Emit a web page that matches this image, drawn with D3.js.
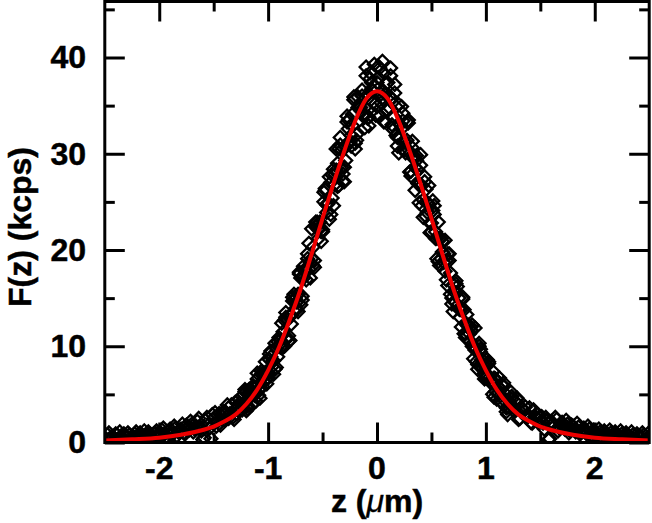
<!DOCTYPE html>
<html>
<head>
<meta charset="utf-8">
<script src="https://cdn.jsdelivr.net/npm/d3@7"></script>
<style>
body{margin:0;background:#fff}
svg{display:block}
text{font-family:"Liberation Sans",Arial,sans-serif;font-weight:bold;fill:#000;stroke:#000;stroke-width:0.5px}
</style>
</head>
<body>
<div id="chart"></div>
<script>
// fitted profile (red line)
var fitZ = [-2.5,-2.25,-2.0,-1.8,-1.6,-1.5,-1.4,-1.3,-1.2,-1.1,-1.0,-0.9,-0.8,-0.7,-0.6,-0.5,-0.4,-0.3,-0.2,-0.1,0,
            0.1,0.2,0.3,0.4,0.5,0.6,0.7,0.8,0.9,1.0,1.1,1.2,1.3,1.4,1.5,1.6,1.8,2.0,2.25,2.5]
var fitF = [0.2,0.33,0.5,0.8,1.3,1.65,2.2,2.9,4.0,5.5,7.5,9.9,12.8,16.0,19.6,23.3,26.9,30.3,33.4,35.7,36.5,
            35.7,33.4,30.3,26.9,23.3,19.6,16.0,12.8,9.9,7.5,5.5,4.0,2.9,2.2,1.65,1.3,0.8,0.5,0.33,0.2]

// measured points [z, F], first scan
var scanA = [
[-2.500,0.5],[-2.475,0.8],[-2.450,0.4],[-2.425,0.6],[-2.400,0.9],[-2.375,0.3],[-2.350,0.7],[-2.325,0.9],[-2.300,0.5],[-2.275,0.8],
[-2.250,0.4],[-2.225,0.9],[-2.200,0.6],[-2.175,1.0],[-2.150,0.6],[-2.125,0.8],[-2.100,1.1],[-2.075,0.6],[-2.050,0.9],[-2.025,1.2],
[-2.000,0.7],[-1.975,1.3],[-1.950,0.9],[-1.925,1.1],[-1.900,1.4],[-1.875,0.9],[-1.850,1.5],[-1.825,1.1],[-1.800,1.4],[-1.775,1.0],
[-1.750,1.8],[-1.725,1.3],[-1.700,1.9],[-1.675,1.4],[-1.650,2.2],[-1.625,1.6],[-1.600,0.3],[-1.575,2.3],[-1.550,1.8],[-1.525,0.4],
[-1.500,2.5],[-1.475,1.7],[-1.450,3.0],[-1.425,2.8],[-1.400,2.4],[-1.375,3.9],[-1.350,3.0],[-1.325,2.6],[-1.300,4.2],[-1.275,3.7],
[-1.250,3.4],[-1.225,5.0],[-1.200,4.3],[-1.175,5.2],[-1.150,3.9],[-1.125,5.6],[-1.100,6.6],[-1.075,5.7],[-1.050,5.8],[-1.025,8.4],
[-1.000,7.2],[-0.975,8.9],[-0.950,7.1],[-0.925,9.8],[-0.900,10.1],[-0.875,9.9],[-0.850,12.7],[-0.825,10.8],[-0.800,13.2],[-0.775,14.7],
[-0.750,15.0],[-0.725,13.6],[-0.700,17.1],[-0.675,17.1],[-0.650,16.9],[-0.625,20.7],[-0.600,19.1],[-0.575,18.9],[-0.550,22.9],[-0.525,22.4],
[-0.500,22.1],[-0.475,26.2],[-0.450,24.9],[-0.425,27.0],[-0.400,24.6],[-0.375,28.3],[-0.350,30.5],[-0.325,28.6],[-0.300,28.6],[-0.275,33.9],
[-0.250,31.3],[-0.225,34.1],[-0.200,30.5],[-0.175,34.8],[-0.150,34.8],[-0.125,33.9],[-0.100,38.1],[-0.075,33.8],[-0.050,36.7],[-0.025,39.3],
[0.000,37.4],[0.025,33.9],[0.050,39.6],[0.075,36.2],[0.100,34.5],[0.125,38.9],[0.150,33.9],[0.175,31.9],[0.200,35.1],[0.225,32.6],
[0.250,30.4],[0.275,33.3],[0.300,30.0],[0.325,30.6],[0.350,26.2],[0.375,28.3],[0.400,28.8],[0.425,25.2],[0.450,23.5],[0.475,26.7],
[0.500,22.8],[0.525,23.7],[0.550,19.1],[0.575,21.2],[0.600,19.8],[0.625,17.8],[0.650,19.6],[0.675,15.4],[0.700,16.4],[0.725,16.5],
[0.750,15.0],[0.775,12.0],[0.800,13.8],[0.825,12.2],[0.850,10.6],[0.875,12.2],[0.900,9.6],[0.925,8.1],[0.950,9.7],[0.975,8.1],
[1.000,6.8],[1.025,8.2],[1.050,6.5],[1.075,6.7],[1.100,4.5],[1.125,5.6],[1.150,6.0],[1.175,4.3],[1.200,3.7],[1.225,5.3],
[1.250,3.7],[1.275,4.2],[1.300,2.4],[1.325,3.6],[1.350,3.3],[1.375,2.6],[1.400,3.6],[1.425,2.0],[1.450,2.7],[1.475,2.9],
[1.500,2.5],[1.525,2.0],[1.550,2.6],[1.575,0.3],[1.600,2.2],[1.625,1.7],[1.650,2.4],[1.675,1.5],[1.700,2.1],[1.725,1.4],
[1.750,1.9],[1.775,1.2],[1.800,1.7],[1.825,1.1],[1.850,1.6],[1.875,1.0],[1.900,1.5],[1.925,0.9],[1.950,1.4],[1.975,0.8],
[2.000,1.2],[2.025,0.7],[2.050,1.1],[2.075,0.8],[2.100,1.0],[2.125,0.6],[2.150,1.0],[2.175,0.7],[2.200,0.9],[2.225,0.5],
[2.250,0.9],[2.275,0.6],[2.300,0.8],[2.325,0.5],[2.350,0.8],[2.375,0.4],[2.400,0.7],[2.425,0.5],[2.450,0.8],[2.475,0.4],
[2.500,0.6]]

// second scan, central part only
var scanB = [
[-1.2875,3.0],[-1.2625,4.5],[-1.2375,3.9],[-1.2125,5.3],[-1.1875,3.8],[-1.1625,5.1],[-1.1375,5.7],[-1.1125,4.3],[-1.0875,6.0],[-1.0625,7.1],
[-1.0375,6.3],[-1.0125,6.1],[-0.9875,8.6],[-0.9625,8.4],[-0.9375,10.3],[-0.9125,8.9],[-0.8875,9.9],[-0.8625,11.5],[-0.8375,13.5],[-0.8125,11.1],
[-0.7875,12.3],[-0.7625,15.4],[-0.7375,14.6],[-0.7125,17.5],[-0.6875,15.2],[-0.6625,17.8],[-0.6375,19.1],[-0.6125,17.1],[-0.5875,20.3],[-0.5625,22.4],
[-0.5375,21.2],[-0.5125,20.9],[-0.4875,25.0],[-0.4625,24.7],[-0.4375,27.6],[-0.4125,25.4],[-0.3875,26.8],[-0.3625,29.0],[-0.3375,31.7],[-0.3125,27.9],
[-0.2875,29.3],[-0.2625,33.5],[-0.2375,31.9],[-0.2125,35.6],[-0.1875,32.0],[-0.1625,34.8],[-0.1375,36.0],[-0.1125,32.7],[-0.0875,36.1],[-0.0625,37.8],
[-0.0375,35.3],[-0.0125,34.0],[0.0125,37.9],[0.0375,36.2],[0.0625,38.4],[0.0875,34.6],[0.1125,34.8],[0.1375,35.7],[0.1625,37.2],[0.1875,31.7],
[0.2125,31.6],[0.2375,34.2],[0.2625,31.2],[0.2875,33.2],[0.3125,28.2],[0.3375,29.5],[0.3625,29.3],[0.3875,24.9],[0.4125,26.7],[0.4375,27.1],
[0.4625,23.9],[0.4875,21.8],[0.5125,24.1],[0.5375,21.9],[0.5625,22.9],[0.5875,19.1],[0.6125,18.7],[0.6375,18.9],[0.6625,19.6],[0.6875,15.0],
[0.7125,14.6],[0.7375,16.2],[0.7625,13.8],[0.7875,14.9],[0.8125,11.3],[0.8375,12.1],[0.8625,11.7],[0.8875,8.7],[0.9125,9.8],[0.9375,10.0],
[0.9625,7.9],[0.9875,6.6],[1.0125,8.0],[1.0375,6.8],[1.0625,7.4],[1.0875,5.3],[1.1125,5.2],[1.1375,5.5],[1.1625,6.2],[1.1875,3.6],
[1.2125,3.7],[1.2375,4.8],[1.2625,3.6],[1.2875,4.5]]

// third scan, full range
var scanC = [
[-2.4875,0.3],[-2.4625,1.0],[-2.4375,0.6],[-2.4125,0.2],[-2.3875,0.8],[-2.3625,1.1],[-2.3375,0.4],[-2.3125,0.7],[-2.2875,1.0],[-2.2625,0.3],
[-2.2375,0.6],[-2.2125,1.1],[-2.1875,0.4],[-2.1625,0.8],[-2.1375,1.2],[-2.1125,0.5],[-2.0875,0.9],[-2.0625,0.4],[-2.0375,1.0],[-2.0125,0.6],
[-1.9875,1.0],[-1.9625,1.5],[-1.9375,0.6],[-1.9125,1.2],[-1.8875,0.8],[-1.8625,1.7],[-1.8375,0.7],[-1.8125,1.3],[-1.7875,1.9],[-1.7625,0.9],
[-1.7375,1.6],[-1.7125,2.2],[-1.6875,1.1],[-1.6625,1.7],[-1.6375,2.5],[-1.6125,1.2],[-1.5875,0.5],[-1.5625,2.6],[-1.5375,1.5],[-1.5125,2.9],
[-1.4875,3.1],[-1.4625,2.2],[-1.4375,1.8],[-1.4125,3.2],[-1.3875,3.1],[-1.3625,2.5],[-1.3375,3.9],[-1.3125,2.4],[-1.2875,3.5],[-1.2625,4.1],
[-1.2375,3.4],[-1.2125,5.5],[-1.1875,3.5],[-1.1625,5.3],[-1.1375,5.9],[-1.1125,5.2],[-1.0875,4.9],[-1.0625,7.4],[-1.0375,6.9],[-1.0125,6.7],
[-0.9875,9.2],[-0.9625,7.9],[-0.9375,7.6],[-0.9125,10.5],[-0.8875,10.6],[-0.8625,9.9],[-0.8375,13.0],[-0.8125,10.5],[-0.7875,13.2],[-0.7625,14.8],
[-0.7375,13.8],[-0.7125,17.7],[-0.6875,14.8],[-0.6625,18.0],[-0.6375,19.6],[-0.6125,18.7],[-0.5875,18.4],[-0.5625,22.9],[-0.5375,22.1],[-0.5125,21.9],
[-0.4875,26.0],[-0.4625,23.9],[-0.4375,23.2],[-0.4125,27.8],[-0.3875,27.8],[-0.3625,26.6],[-0.3375,30.9],[-0.3125,27.1],[-0.2875,30.7],[-0.2625,32.6],
[-0.2375,30.8],[-0.2125,35.9],[-0.1875,31.4],[-0.1625,35.1],[-0.1375,36.6],[-0.1125,34.8],[-0.0875,33.7],[-0.0625,38.4],[-0.0375,36.5],[-0.0125,35.2],
[0.0125,39.1],[0.0375,35.3],[0.0625,33.3],[0.0875,37.3],[0.1125,36.0],[0.1375,33.0],[0.1625,36.3],[0.1875,30.8],[0.2125,33.0],[0.2375,33.4],
[0.2625,30.1],[0.2875,33.5],[0.3125,27.7],[0.3375,29.8],[0.3625,29.8],[0.3875,26.8],[0.4125,24.6],[0.4375,27.6],[0.4625,24.9],[0.4875,22.8],
[0.5125,25.1],[0.5375,21.2],[0.5625,18.8],[0.5875,21.2],[0.6125,19.6],[0.6375,16.9],[0.6625,18.9],[0.6875,14.4],[0.7125,15.6],[0.7375,15.6],
[0.7625,13.0],[0.7875,15.1],[0.8125,10.9],[0.8375,12.2],[0.8625,12.0],[0.8875,9.9],[0.9125,8.4],[0.9375,10.3],[0.9625,8.6],[0.9875,7.2],
[1.0125,8.6],[1.0375,6.3],[1.0625,5.0],[1.0875,6.6],[1.1125,5.8],[1.1375,4.3],[1.1625,5.8],[1.1875,3.2],[1.2125,4.3],[1.2375,4.5],
[1.2625,3.2],[1.2875,4.6],[1.3125,2.5],[1.3375,3.5],[1.3625,3.7],[1.3875,2.7],[1.4125,2.1],[1.4375,3.4],[1.4625,2.6],[1.4875,2.0],
[1.5125,2.7],[1.5375,1.4],[1.5625,2.3],[1.5875,0.4],[1.6125,1.9],[1.6375,2.6],[1.6625,1.2],[1.6875,2.0],[1.7125,1.6],[1.7375,2.3],
[1.7625,1.0],[1.7875,1.8],[1.8125,1.3],[1.8375,2.0],[1.8625,0.9],[1.8875,1.4],[1.9125,1.1],[1.9375,1.7],[1.9625,0.7],[1.9875,1.3],
[2.0125,1.0],[2.0375,1.4],[2.0625,0.5],[2.0875,1.2],[2.1125,0.8],[2.1375,1.3],[2.1625,0.5],[2.1875,1.1],[2.2125,0.7],[2.2375,1.2],
[2.2625,0.4],[2.2875,1.0],[2.3125,0.7],[2.3375,1.1],[2.3625,0.3],[2.3875,0.9],[2.4125,0.6],[2.4375,1.0],[2.4625,0.3],[2.4875,0.9]]

// fourth scan, central part only
var scanD = [
[-1.200,3.3],[-1.175,5.5],[-1.150,5.0],[-1.125,4.9],[-1.100,7.2],[-1.075,4.6],[-1.050,7.1],[-1.025,7.3],[-1.000,6.7],[-0.975,9.5],
[-0.950,8.5],[-0.925,7.8],[-0.900,10.9],[-0.875,12.4],[-0.850,10.0],[-0.825,12.7],[-0.800,10.6],[-0.775,15.1],[-0.750,13.9],[-0.725,15.4],
[-0.700,14.3],[-0.675,18.3],[-0.650,17.8],[-0.625,18.0],[-0.600,22.2],[-0.575,18.2],[-0.550,22.5],[-0.525,22.9],[-0.500,21.9],[-0.475,26.4],
[-0.450,24.8],[-0.425,23.7],[-0.400,28.4],[-0.375,30.5],[-0.350,26.7],[-0.325,30.4],[-0.300,27.1],[-0.275,33.3],[-0.250,31.2],[-0.225,32.9],
[-0.200,31.1],[-0.175,35.9],[-0.150,34.5],[-0.125,34.1],[-0.100,39.0],[-0.075,32.9],[-0.050,37.4],[-0.025,37.0],[0.000,34.9],[0.025,38.9],
[0.050,35.8],[0.075,33.3],[0.100,37.4],[0.125,38.1],[0.150,32.5],[0.175,34.9],[0.200,30.1],[0.225,34.9],[0.250,31.2],[0.275,31.4],
[0.300,28.1],[0.325,31.3],[0.350,28.6],[0.375,26.9],[0.400,29.9],[0.425,23.4],[0.450,26.3],[0.475,24.8],[0.500,21.9],[0.525,24.6],
[0.550,21.2],[0.575,18.4],[0.600,20.9],[0.625,21.0],[0.650,16.3],[0.675,17.6],[0.700,13.6],[0.725,16.8],[0.750,13.9],[0.775,13.8],
[0.800,11.3],[0.825,13.3],[0.850,11.3],[0.875,10.0],[0.900,11.9],[0.925,7.6],[0.950,9.4],[0.975,8.5],[1.000,6.7],[1.025,8.4],
[1.050,6.3],[1.075,4.7],[1.100,6.4],[1.125,6.7],[1.150,4.1],[1.175,5.1],[1.200,2.9]]

var xMajor = [-2,-1,0,1,2]
var xMinor = [-1.5,-0.5,0.5,1.5]
var yMajor = [0,10,20,30,40]
var yMinor = [5,15,25,35,45]

var W = 652, H = 523
var pLeft = 104.8, pRight = 649.2, pTop = 1.5, pBottom = 442.5

var x = d3.scaleLinear().domain([-2.5,2.5]).range([pLeft,pRight])
var y = d3.scaleLinear().domain([0,40]).range([pBottom,57.5])

var svg = d3.select("#chart").append("svg")
    .attr("width",W)
    .attr("height",H)

svg.append("defs").append("clipPath").attr("id","plotclip")
    .append("rect")
    .attr("x",pLeft).attr("y",pTop)
    .attr("width",pRight-pLeft).attr("height",pBottom-pTop)

// tick marks on all four sides, pointing inwards
function ticks(axis, vals, len, tr){
    var g = svg.append("g")
        .attr("transform",tr)
        .call(axis.tickValues(vals).tickSize(-len).tickSizeOuter(0).tickFormat(""))
    g.select(".domain").remove()
    g.selectAll("line").attr("stroke","#000").attr("stroke-width",3)
}
ticks(d3.axisBottom(x), xMajor, 20, "translate(0,"+pBottom+")")
ticks(d3.axisBottom(x), xMinor, 10, "translate(0,"+pBottom+")")
ticks(d3.axisTop(x), xMajor, 20, "translate(0,"+pTop+")")
ticks(d3.axisTop(x), xMinor, 10, "translate(0,"+pTop+")")
ticks(d3.axisLeft(y), yMajor, 20, "translate("+pLeft+",0)")
ticks(d3.axisLeft(y), yMinor, 10, "translate("+pLeft+",0)")
ticks(d3.axisRight(y), yMajor, 20, "translate("+pRight+",0)")
ticks(d3.axisRight(y), yMinor, 10, "translate("+pRight+",0)")

// data points: open diamonds
var pts = svg.append("g").attr("clip-path","url(#plotclip)")
var diamond = d3.symbol().type(d3.symbolSquare).size(84)
pts.selectAll("path.pt")
    .data(scanA.concat(scanB, scanC, scanD))
    .enter().append("path")
    .attr("class","pt")
    .attr("d",diamond)
    .attr("transform",function(d){ return "translate("+x(d[0])+","+y(d[1])+") rotate(45)" })
    .attr("fill","none")
    .attr("stroke","#000")
    .attr("stroke-width",2.3)

// fit
var line = d3.line()
    .x(function(d,i){ return x(fitZ[i]) })
    .y(function(d){ return y(d) })
    .curve(d3.curveMonotoneX)
pts.append("path")
    .datum(fitF)
    .attr("d",line)
    .attr("fill","none")
    .attr("stroke","#ee0000")
    .attr("stroke-width",4)

// frame
svg.append("rect")
    .attr("x",pLeft).attr("y",pTop)
    .attr("width",pRight-pLeft).attr("height",pBottom-pTop)
    .attr("fill","none")
    .attr("stroke","#000")
    .attr("stroke-width",3)

// tick labels
svg.selectAll("text.xl")
    .data(xMajor)
    .enter().append("text")
    .attr("class","xl")
    .attr("x",function(d){ return x(d) })
    .attr("y",479)
    .attr("text-anchor","middle")
    .style("font-size","32px")
    .text(function(d){ return String(d) })

svg.selectAll("text.yl")
    .data(yMajor)
    .enter().append("text")
    .attr("class","yl")
    .attr("x",86)
    .attr("y",function(d){ return y(d) })
    .attr("dy","0.34em")
    .attr("text-anchor","end")
    .style("font-size","32px")
    .text(function(d){ return String(d) })

// axis titles
var xt = svg.append("text")
    .attr("x",377)
    .attr("y",512)
    .attr("text-anchor","middle")
    .style("font-size","32px")
xt.append("tspan").text("z (")
xt.append("tspan").style("font-style","italic").style("font-weight","normal").style("stroke-width","0.3px").text("\u03bc")
xt.append("tspan").text("m)")

svg.append("text")
    .attr("transform","translate(31,227) rotate(-90)")
    .attr("text-anchor","middle")
    .style("font-size","32px")
    .text("F(z) (kcps)")
</script>
</body>
</html>
